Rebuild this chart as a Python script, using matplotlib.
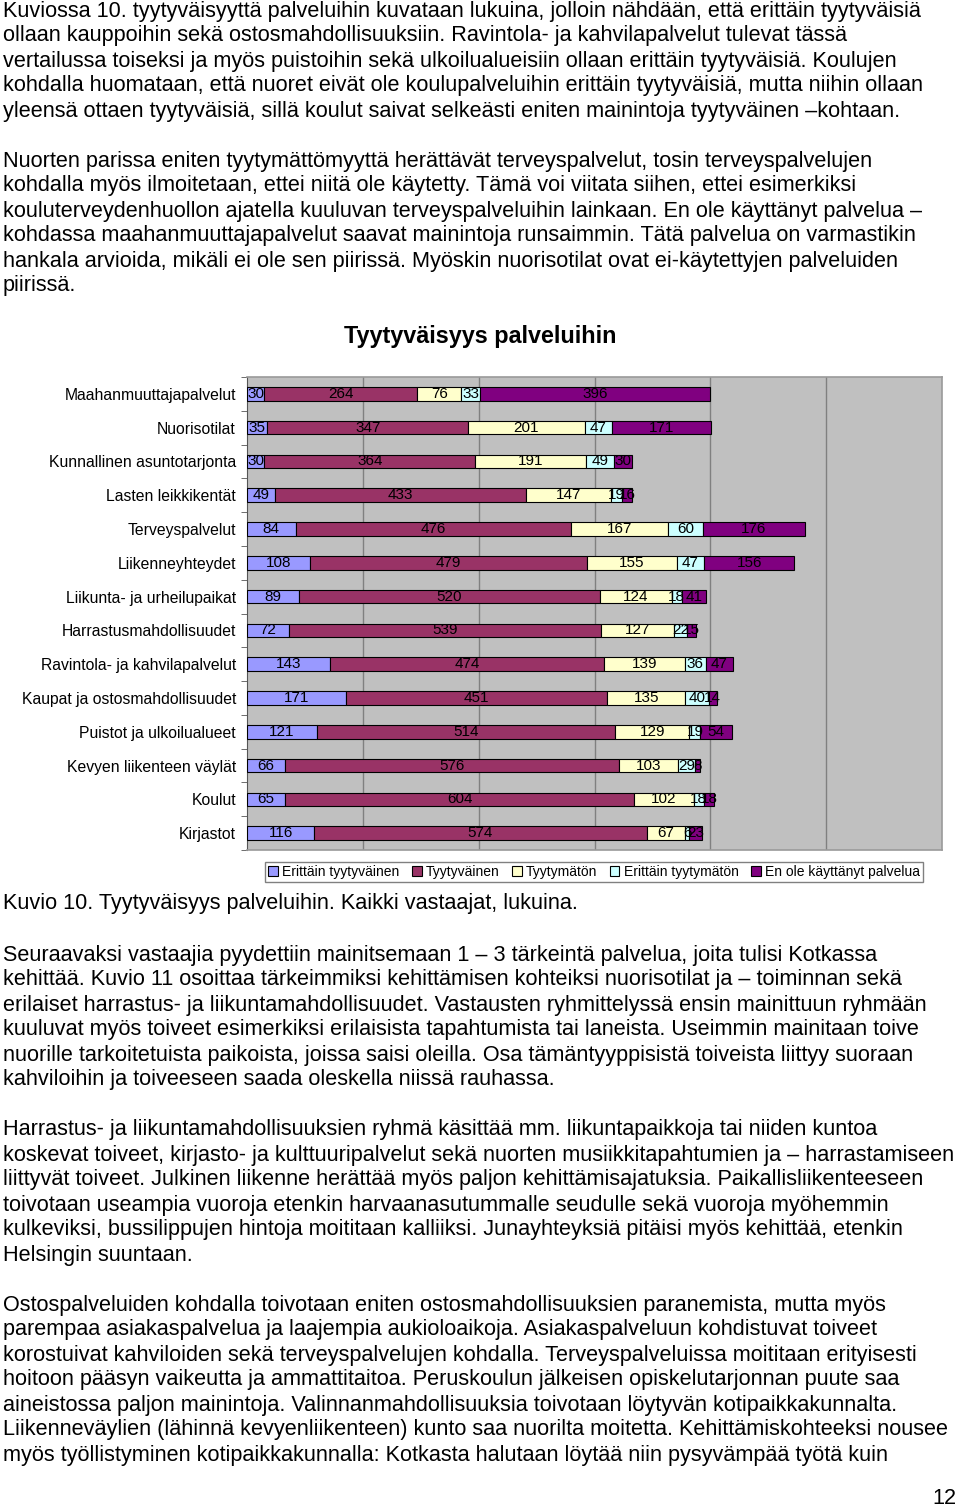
import numpy as np
import matplotlib.pyplot as plt

plt.rcParams['font.family'] = ['Liberation Sans', 'DejaVu Sans']

# Palvelut (ylhäältä alas)
palvelut = ['Maahanmuuttajapalvelut', 'Nuorisotilat', 'Kunnallinen asuntotarjonta',
            'Lasten leikkikentät', 'Terveyspalvelut', 'Liikenneyhteydet',
            'Liikunta- ja urheilupaikat', 'Harrastusmahdollisuudet',
            'Ravintola- ja kahvilapalvelut', 'Kaupat ja ostosmahdollisuudet',
            'Puistot ja ulkoilualueet', 'Kevyen liikenteen väylät', 'Koulut', 'Kirjastot']

erittain_tyytyvainen = [30, 35, 30, 49, 84, 108, 89, 72, 143, 171, 121, 66, 65, 116]
tyytyvainen = [264, 347, 364, 433, 476, 479, 520, 539, 474, 451, 514, 576, 604, 574]
tyytymaton = [76, 201, 191, 147, 167, 155, 124, 127, 139, 135, 129, 103, 102, 67]
erittain_tyytymaton = [33, 47, 49, 19, 60, 47, 18, 22, 36, 40, 19, 29, 18, 6]
ei_kaytetty = [396, 171, 30, 16, 176, 156, 41, 15, 47, 14, 54, 8, 18, 23]

sarjat = ['Erittäin tyytyväinen', 'Tyytyväinen', 'Tyytymätön', 'Erittäin tyytymätön',
          'En ole käyttänyt palvelua']
arvot = [erittain_tyytyvainen, tyytyvainen, tyytymaton, erittain_tyytymaton, ei_kaytetty]
varit = ['#9999FF', '#993366', '#FFFFCC', '#CCFFFF', '#800080']

teksti1 = [
    "Kuviossa 10. tyytyväisyyttä palveluihin kuvataan lukuina, jolloin nähdään, että erittäin tyytyväisiä",
    "ollaan kauppoihin sekä ostosmahdollisuuksiin. Ravintola- ja kahvilapalvelut tulevat tässä",
    "vertailussa toiseksi ja myös puistoihin sekä ulkoilualueisiin ollaan erittäin tyytyväisiä. Koulujen",
    "kohdalla huomataan, että nuoret eivät ole koulupalveluihin erittäin tyytyväisiä, mutta niihin ollaan",
    "yleensä ottaen tyytyväisiä, sillä koulut saivat selkeästi eniten mainintoja tyytyväinen –kohtaan.",
    "",
    "Nuorten parissa eniten tyytymättömyyttä herättävät terveyspalvelut, tosin terveyspalvelujen",
    "kohdalla myös ilmoitetaan, ettei niitä ole käytetty. Tämä voi viitata siihen, ettei esimerkiksi",
    "kouluterveydenhuollon ajatella kuuluvan terveyspalveluihin lainkaan. En ole käyttänyt palvelua –",
    "kohdassa maahanmuuttajapalvelut saavat mainintoja runsaimmin. Tätä palvelua on varmastikin",
    "hankala arvioida, mikäli ei ole sen piirissä. Myöskin nuorisotilat ovat ei-käytettyjen palveluiden",
    "piirissä.",
]

teksti2 = [
    "Seuraavaksi vastaajia pyydettiin mainitsemaan 1 – 3 tärkeintä palvelua, joita tulisi Kotkassa",
    "kehittää. Kuvio 11 osoittaa tärkeimmiksi kehittämisen kohteiksi nuorisotilat ja – toiminnan sekä",
    "erilaiset harrastus- ja liikuntamahdollisuudet. Vastausten ryhmittelyssä ensin mainittuun ryhmään",
    "kuuluvat myös toiveet esimerkiksi erilaisista tapahtumista tai laneista. Useimmin mainitaan toive",
    "nuorille tarkoitetuista paikoista, joissa saisi oleilla. Osa tämäntyyppisistä toiveista liittyy suoraan",
    "kahviloihin ja toiveeseen saada oleskella niissä rauhassa.",
    "",
    "Harrastus- ja liikuntamahdollisuuksien ryhmä käsittää mm. liikuntapaikkoja tai niiden kuntoa",
    "koskevat toiveet, kirjasto- ja kulttuuripalvelut sekä nuorten musiikkitapahtumien ja – harrastamiseen",
    "liittyvät toiveet. Julkinen liikenne herättää myös paljon kehittämisajatuksia. Paikallisliikenteeseen",
    "toivotaan useampia vuoroja etenkin harvaanasutummalle seudulle sekä vuoroja myöhemmin",
    "kulkeviksi, bussilippujen hintoja moititaan kalliiksi. Junayhteyksiä pitäisi myös kehittää, etenkin",
    "Helsingin suuntaan.",
    "",
    "Ostospalveluiden kohdalla toivotaan eniten ostosmahdollisuuksien paranemista, mutta myös",
    "parempaa asiakaspalvelua ja laajempia aukioloaikoja. Asiakaspalveluun kohdistuvat toiveet",
    "korostuivat kahviloiden sekä terveyspalvelujen kohdalla. Terveyspalveluissa moititaan erityisesti",
    "hoitoon pääsyn vaikeutta ja ammattitaitoa. Peruskoulun jälkeisen opiskelutarjonnan puute saa",
    "aineistossa paljon mainintoja. Valinnanmahdollisuuksia toivotaan löytyvän kotipaikkakunnalta.",
    "Liikenneväylien (lähinnä kevyenliikenteen) kunto saa nuorilta moitetta. Kehittämiskohteeksi nousee",
    "myös työllistyminen kotipaikkakunnalla: Kotkasta halutaan löytää niin pysyvämpää työtä kuin",
]

W, H = 960, 1509
fig = plt.figure(figsize=(W / 100, H / 100), dpi=100)

def px(y):
    return 1 - y / H

koko = 15.6
for i, rivi in enumerate(teksti1):
    fig.text(3 / W, px(11 + 25 * i), rivi, fontsize=koko, va='center', ha='left')
for i, rivi in enumerate(teksti2):
    fig.text(3 / W, px(955 + 25 * i), rivi, fontsize=koko, va='center', ha='left')

fig.text(480 / W, px(336), 'Tyytyväisyys palveluihin', fontsize=16.8, fontweight='bold',
         ha='center', va='center')
fig.text(3 / W, px(904), 'Kuvio 10. Tyytyväisyys palveluihin. Kaikki vastaajat, lukuina.',
         fontsize=koko, va='center', ha='left')
fig.text(957 / W, px(1498), '12', fontsize=koko, va='center', ha='right')

# kaavio
ax = fig.add_axes([247 / W, px(850), (942 - 247) / W, (850 - 377) / H])
ax.set_facecolor('#C0C0C0')

y = np.arange(len(palvelut))
vasen = np.zeros(len(palvelut))
for nimi, data, vari in zip(sarjat, arvot, varit):
    palkit = ax.barh(y, data, left=vasen, height=0.4, color=vari, edgecolor='black',
                     linewidth=0.8, label=nimi, zorder=3)
    ax.bar_label(palkit, labels=[str(v) for v in data], label_type='center',
                 fontsize=11, color='black', zorder=4)
    vasen += np.array(data)

ax.set_xlim(0, 1200)
ax.set_ylim(len(palvelut) - 0.5, -0.5)
ax.set_xticks([200, 400, 600, 800, 1000])
ax.xaxis.grid(True, color='#808080', linewidth=1)
ax.set_axisbelow(True)
ax.tick_params(axis='x', length=0, labelbottom=False)

ax.set_yticks(y)
ax.set_yticklabels(palvelut, fontsize=11.3)
ax.set_yticks(np.arange(len(palvelut) + 1) - 0.5, minor=True)
ax.tick_params(axis='y', which='major', length=0, pad=8)
ax.tick_params(axis='y', which='minor', length=4, color='#555555', direction='out')

for s in ['top', 'right', 'bottom']:
    ax.spines[s].set_color('#9A9A9A')
    ax.spines[s].set_linewidth(1.2)
ax.spines['left'].set_color('#555555')

fig.legend(loc='center', bbox_to_anchor=(594 / W, px(872)), ncol=5, fontsize=10,
           frameon=True, fancybox=False, edgecolor='#808080', handlelength=0.7,
           handleheight=0.7, handletextpad=0.3, columnspacing=0.9, borderpad=0.25,
           framealpha=1)

fig.savefig('out.png', dpi=100)
